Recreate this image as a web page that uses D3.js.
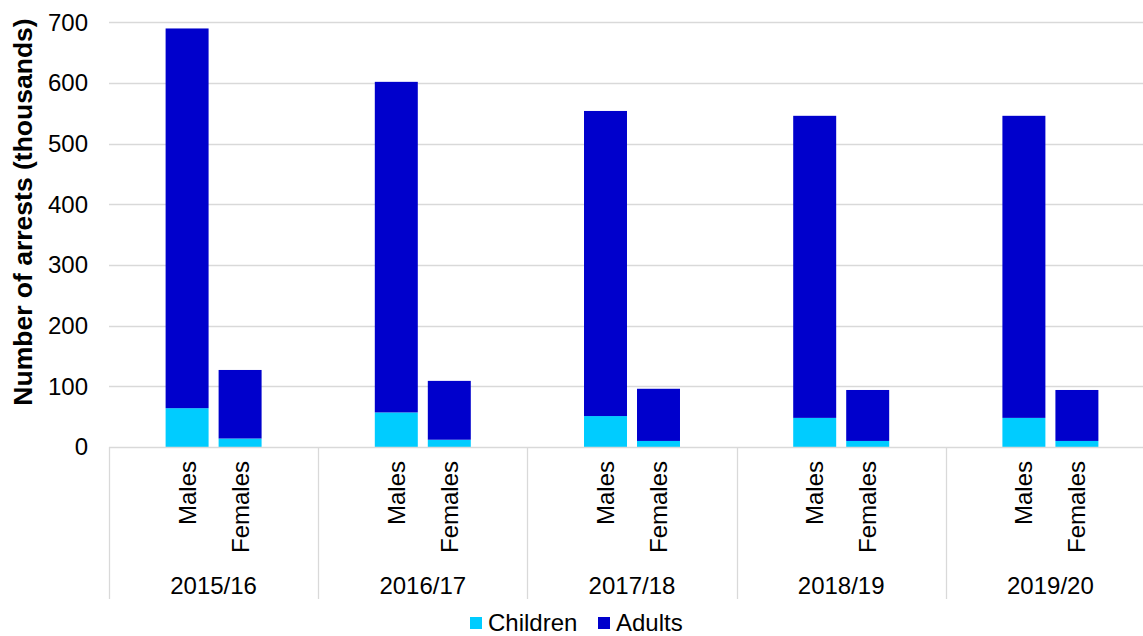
<!DOCTYPE html>
<html>
<head>
<meta charset="utf-8">
<script src="https://cdn.jsdelivr.net/npm/d3@7"></script>
<style>
  html, body { margin: 0; padding: 0; background: #fff; }
  svg { display: block; font-family: "Liberation Sans", Arial, sans-serif; }
</style>
</head>
<body>
<svg id="chart" width="1143" height="636"></svg>
<script>
// Arrests by financial year and sex, in thousands
const years = ["2015/16", "2016/17", "2017/18", "2018/19", "2019/20"];
const sexes = ["Males", "Females"];
const childrenMales   = [64, 57, 51, 48, 48];
const adultsMales     = [626, 545, 503, 498, 498];
const childrenFemales = [14, 12, 10, 10, 10];
const adultsFemales   = [113, 97, 86, 84, 84];
const yTicks = [0, 100, 200, 300, 400, 500, 600, 700];
const seriesNames = ["Children", "Adults"];
const seriesColors = ["#00CCFF", "#0000CC"];

// Flatten into rows for stacking
const rows = [];
years.forEach((yr, i) => {
  rows.push({ year: yr, sex: "Males", Children: childrenMales[i], Adults: adultsMales[i] });
  rows.push({ year: yr, sex: "Females", Children: childrenFemales[i], Adults: adultsFemales[i] });
});

const svg = d3.select("#chart");
const W = 1143, H = 636;
const left = 109, right = 1155, zeroY = 447, topY = 22.4;
const fs = 24;

const x0 = d3.scaleBand().domain(years).range([left, right]).padding(0);
const x1 = d3.scaleBand().domain(sexes).range([0, x0.bandwidth()])
  .paddingInner(0.189).paddingOuter(1.068);
const y = d3.scaleLinear().domain([0, 700]).range([zeroY, topY]);

const grid = "#d9d9d9";

// Horizontal gridlines
svg.append("g").selectAll("line").data(yTicks.filter(t => t > 0)).join("line")
  .attr("x1", left).attr("x2", W)
  .attr("y1", d => Math.round(y(d)) + 0.5).attr("y2", d => Math.round(y(d)) + 0.5)
  .attr("stroke", grid).attr("stroke-width", 1.3);

// Stacked bars
const stack = d3.stack().keys(seriesNames);
const stacked = stack(rows);
const color = d3.scaleOrdinal().domain(seriesNames).range(seriesColors);

svg.append("g").selectAll("g").data(stacked).join("g")
  .attr("fill", d => color(d.key))
  .selectAll("rect").data(d => d).join("rect")
  .attr("x", d => x0(d.data.year) + x1(d.data.sex))
  .attr("width", x1.bandwidth())
  .attr("y", d => y(d[1]))
  .attr("height", d => y(d[0]) - y(d[1]));

// Category axis baseline and group dividers
svg.append("line")
  .attr("x1", left).attr("x2", right)
  .attr("y1", Math.round(y(0)) + 0.5).attr("y2", Math.round(y(0)) + 0.5)
  .attr("stroke", grid).attr("stroke-width", 1.3);
svg.append("g").selectAll("line").data(years).join("line")
  .attr("x1", d => Math.round(x0(d)) + 0.5).attr("x2", d => Math.round(x0(d)) + 0.5)
  .attr("y1", y(0)).attr("y2", 599)
  .attr("stroke", grid).attr("stroke-width", 1.3);

// Y tick labels
svg.append("g").selectAll("text").data(yTicks).join("text")
  .attr("x", 88).attr("y", d => y(d))
  .attr("dy", "0.35em")
  .attr("text-anchor", "end")
  .attr("font-size", fs)
  .attr("fill", "#000")
  .text(d => d);

// Y axis title
svg.append("text")
  .attr("transform", `translate(31.5, 212) rotate(-90)`)
  .attr("text-anchor", "middle")
  .attr("font-size", 26.5)
  .attr("font-weight", "bold")
  .attr("fill", "#000")
  .text("Number of arrests (thousands)");

// Sex labels (rotated)
svg.append("g").selectAll("text").data(rows).join("text")
  .attr("transform", d => {
    const cx = x0(d.year) + x1(d.sex) + x1.bandwidth() / 2;
    return `translate(${cx + 8.5}, 461) rotate(-90)`;
  })
  .attr("text-anchor", "end")
  .attr("font-size", fs)
  .attr("fill", "#000")
  .text(d => d.sex);

// Year labels
svg.append("g").selectAll("text").data(years).join("text")
  .attr("x", d => x0(d) + x0.bandwidth() / 2)
  .attr("y", 594)
  .attr("text-anchor", "middle")
  .attr("font-size", fs)
  .attr("fill", "#000")
  .text(d => d);

// Legend
const legend = svg.append("g");
const legendX = [470, 598];
seriesNames.forEach((name, i) => {
  legend.append("rect")
    .attr("x", legendX[i]).attr("y", 617)
    .attr("width", 12).attr("height", 12)
    .attr("fill", seriesColors[i]);
  legend.append("text")
    .attr("x", legendX[i] + 18).attr("y", 631)
    .attr("font-size", fs)
    .attr("fill", "#000")
    .text(name);
});
</script>
</body>
</html>
